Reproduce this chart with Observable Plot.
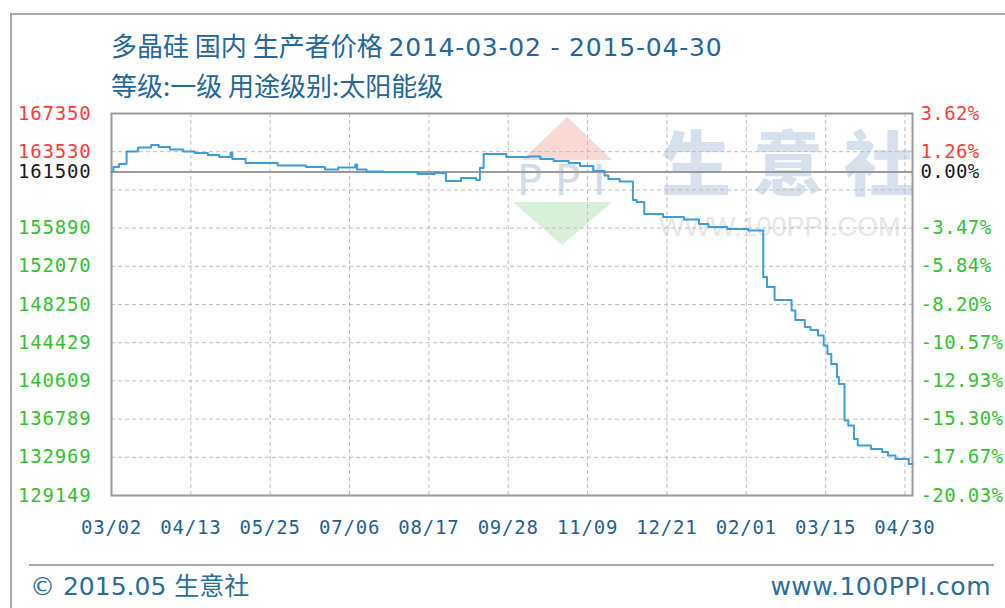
<!DOCTYPE html>
<html>
<head>
<meta charset="utf-8">
<script src="https://cdn.jsdelivr.net/npm/d3@7"></script>
<script src="https://cdn.jsdelivr.net/npm/@observablehq/plot@0.6"></script>
<style>
  html, body { margin: 0; padding: 0; background: #fff; }
  #wrap { position: relative; width: 1005px; height: 608px; overflow: hidden; background: #fff; }
  #border { position: absolute; left: 10px; top: 13px; width: 1200px; height: 800px; border-left: 2px solid #a8a8a8; border-top: 2px solid #a8a8a8; }
  .title { position: absolute; left: 111px; font-family: "DejaVu Sans", "Noto Sans CJK SC", sans-serif; line-height: 30px; color: #22669a; white-space: nowrap; }
  .title .cjk { font-family: "Noto Sans CJK SC", sans-serif; font-size: 26px; }
  #wm { position: absolute; left: 111px; top: 113px; width: 801px; height: 382px; }
  #wm .big { position: absolute; top: 12px; font-family: "Noto Sans CJK SC", sans-serif; font-weight: 900; font-size: 70px; line-height: 70px; color: #d7e0ed; white-space: nowrap; }
  #wm .url { position: absolute; left: 548px; top: 99px; font-family: "Liberation Sans", Arial, sans-serif; font-size: 27px; line-height: 30px; color: #e6e6e6; white-space: nowrap; }
  #wm .ppi { position: absolute; left: 406px; top: 43px; font-family: "DejaVu Sans", sans-serif; font-size: 42px; line-height: 50px; color: #d2dbea; white-space: nowrap; }
  #wm svg { position: absolute; left: 0; top: 0; }
  #chart { position: absolute; left: 0; top: 0; }
  #sep { position: absolute; left: 29px; top: 564px; width: 965px; height: 0; border-top: 2px solid #a8a8a8; }
  .foot { position: absolute; top: 571px; font-family: "DejaVu Sans", "Noto Sans CJK SC", sans-serif; font-size: 25px; line-height: 32px; color: #2a6d9a; white-space: nowrap; }
</style>
</head>
<body>
<div id="wrap">
  <div id="border"></div>
  <div id="wm">
    <svg width="801" height="382">
      <polygon points="411,47 456,4 501,47" fill="#f8d9d6"></polygon>
      <polygon points="402,89 501,89 451,132" fill="#d9efd9"></polygon>
    </svg>
    <div class="ppi" style="left:406px">P</div>
    <div class="ppi" style="left:444px">P</div>
    <div class="ppi" style="left:482px">I</div>
    <div class="big" style="left:550px">生</div>
    <div class="big" style="left:642px">意</div>
    <div class="big" style="left:733px">社</div>
    <div class="url">WWW.100PPI.COM</div>
  </div>
  <div class="title" style="top:30px;font-size:25px"><span class="cjk">多晶硅 国内 生产者价格 </span><span style="letter-spacing:0.8px">2014-03-02 - 2015-04-30</span></div>
  <div class="title cjk" style="top:70px;font-size:26px;font-family:'Noto Sans CJK SC',sans-serif">等级:一级 用途级别:太阳能级</div>
  <div id="chart"></div>
  <div id="sep"></div>
  <div class="foot" style="left:30px">© 2015.05 生意社</div>
  <div class="foot" style="right:14px;letter-spacing:0.5px">www.100PPI.com</div>
</div>
<script>
// ---- data ----
const dates = [
  "2014-03-02","2014-03-03","2014-03-06","2014-03-10","2014-03-16","2014-03-23","2014-03-27","2014-04-02","2014-04-09","2014-04-15",
  "2014-04-22","2014-04-28","2014-05-04","2014-05-05","2014-05-12","2014-05-29","2014-06-13","2014-06-23","2014-06-30","2014-07-09",
  "2014-07-10","2014-07-15","2014-07-24","2014-08-11","2014-08-20","2014-08-26","2014-09-03","2014-09-11","2014-09-13","2014-09-15",
  "2014-09-27","2014-10-09","2014-10-15","2014-10-22","2014-10-30","2014-11-05","2014-11-12","2014-11-18","2014-11-20","2014-11-26",
  "2014-12-03","2014-12-05","2014-12-09","2014-12-19","2014-12-30","2015-01-07","2015-01-12","2015-01-22","2015-02-02","2015-02-10",
  "2015-02-12","2015-02-16","2015-02-25","2015-02-27","2015-03-04","2015-03-07","2015-03-11","2015-03-14","2015-03-16","2015-03-18",
  "2015-03-21","2015-03-22","2015-03-25","2015-03-27","2015-03-30","2015-04-01","2015-04-08","2015-04-14","2015-04-17","2015-04-21",
  "2015-04-28","2015-04-30"
];
const prices = [
  161500,162000,162300,163550,163950,164200,164000,163750,163550,163400,
  163200,163000,163400,162800,162400,162150,162000,161750,161950,162250,
  161750,161550,161500,161300,161400,160600,160900,160700,161900,163300,
  163000,163050,162800,162600,162400,162100,161600,161150,160800,160550,
  158700,158500,157300,157000,156750,156300,156000,155800,155650,151000,
  150000,148700,147650,146700,146000,145700,145150,144150,143300,142300,
  141000,140300,136650,136150,134800,134150,133800,133500,133150,132800,
  132300,132300
];
const basePrice = 161500;
const xDomain = ["2014-03-02", "2015-04-30"];
const xTickDates = ["2014-03-02","2014-04-13","2014-05-25","2014-07-06","2014-08-17","2014-09-28","2014-11-09","2014-12-21","2015-02-01","2015-03-15","2015-04-26"];
const xTickLabels = ["03/02","04/13","05/25","07/06","08/17","09/28","11/09","12/21","02/01","03/15","04/30"];
const yDomain = [129149, 167350];
const yGridValues = [129149,132969,136789,140609,144429,148250,152070,155890,159710,163530,167350];
const yUpTicks = [167350, 163530];
const yUpLeftLabels = ["167350", "163530"];
const yUpRightLabels = ["3.62%", "1.26%"];
const yBaseLeftLabel = "161500";
const yBaseRightLabel = "0.00%";
const yDownTicks = [155890,152070,148250,144429,140609,136789,132969,129149];
const yDownLeftLabels = ["155890","152070","148250","144429","140609","136789","132969","129149"];
const yDownRightLabels = ["-3.47%","-5.84%","-8.20%","-10.57%","-12.93%","-15.30%","-17.67%","-20.03%"];

// ---- build ----
const parse = d3.utcParse("%Y-%m-%d");
const series = dates.map((d, i) => ({date: parse(d), price: prices[i]}));
const xTicks = xTickDates.map(parse);
const xLabel = d => xTickLabels[xTicks.findIndex(t => +t === +d)];
const lookup = (vals, labels) => d => labels[vals.indexOf(d)];

const RED = "#ff3b3b", GREEN = "#33c133", BLACK = "#1a1a1a", BLUE = "#1f6190";
const rightStyle = {anchor: "right", tickSize: 0, tickPadding: 8, label: null};

const chart = Plot.plot({
  width: 1005,
  height: 608,
  marginTop: 113,
  marginLeft: 111,
  marginRight: 93,
  marginBottom: 113,
  style: {background: "transparent", fontFamily: "'DejaVu Sans Mono', monospace", fontSize: "19px", letterSpacing: "0.8px", overflow: "visible"},
  x: {type: "utc", domain: xDomain.map(parse)},
  y: {domain: yDomain},
  marks: [
    Plot.gridY(yGridValues, {stroke: "#bdbdbd", strokeOpacity: 1, strokeDasharray: "4,3", strokeWidth: 1}),
    Plot.gridX(xTicks, {stroke: "#bdbdbd", strokeOpacity: 1, strokeDasharray: "4,3", strokeWidth: 1}),
    Plot.ruleY([basePrice], {stroke: "#9a9a9a", strokeWidth: 2}),
    Plot.frame({stroke: "#9a9a9a", strokeWidth: 2}),
    Plot.line(series, {x: "date", y: "price", curve: "step-after", stroke: "#3d9ddc", strokeWidth: 2}),
    Plot.axisX(xTicks, {tickSize: 0, tickPadding: 25, tickFormat: xLabel, fill: BLUE, label: null}),
    Plot.axisY(yUpTicks, {anchor: "left", tickSize: 0, tickPadding: 20, tickFormat: lookup(yUpTicks, yUpLeftLabels), fill: RED, label: null}),
    Plot.axisY([basePrice], {anchor: "left", tickSize: 0, tickPadding: 20, tickFormat: () => yBaseLeftLabel, fill: BLACK, label: null}),
    Plot.axisY(yDownTicks, {anchor: "left", tickSize: 0, tickPadding: 20, tickFormat: lookup(yDownTicks, yDownLeftLabels), fill: GREEN, label: null}),
    Plot.axisY(yUpTicks, {...rightStyle, tickFormat: lookup(yUpTicks, yUpRightLabels), fill: RED}),
    Plot.axisY([basePrice], {...rightStyle, tickFormat: () => yBaseRightLabel, fill: BLACK}),
    Plot.axisY(yDownTicks, {...rightStyle, tickFormat: lookup(yDownTicks, yDownRightLabels), fill: GREEN})
  ]
});
// right-hand labels a touch tighter so the widest ones fit the page like the reference
d3.select(chart).selectAll("g[aria-label='y-axis tick label']").filter(function() {
  return this.getAttribute("text-anchor") === "start";
}).style("letter-spacing", "0.4px");
document.getElementById("chart").appendChild(chart);
</script>
</body>
</html>
